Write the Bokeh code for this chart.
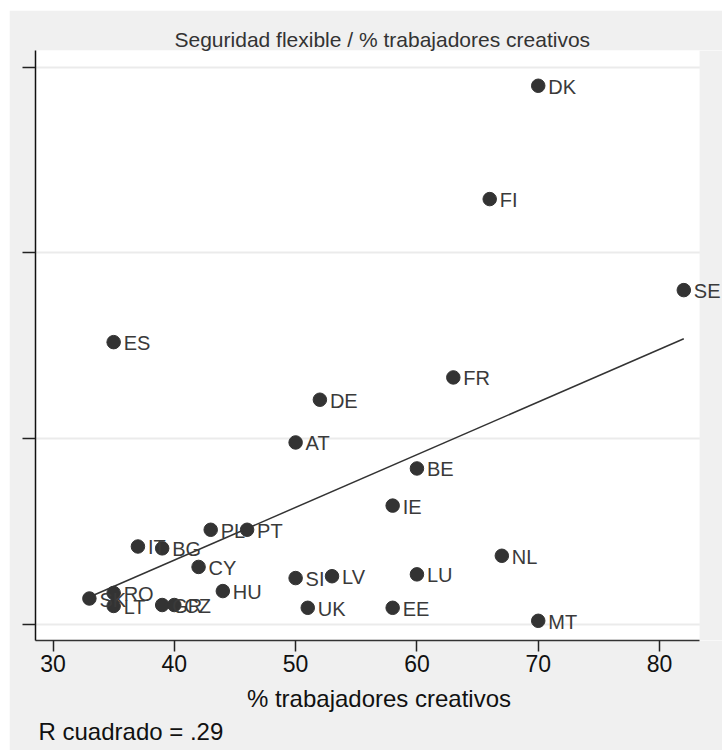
import numpy as np
from bokeh.plotting import figure
from bokeh.models import ColumnDataSource, FixedTicker, Title, Label, BoxAnnotation
from bokeh.embed import file_html
from bokeh.resources import INLINE

# ---- data ----
countries = ["DK", "FI", "SE", "ES", "FR", "DE", "AT", "BE", "IE", "PL", "PT",
             "IT", "BG", "NL", "CY", "LU", "LV", "SI", "HU", "RO", "SK", "LT",
             "GR", "CZ", "UK", "EE", "MT"]
creativos = [70, 66, 82, 35, 63, 52, 50, 60, 58, 43, 46,
             37, 39, 67, 42, 60, 53, 50, 44, 35, 33, 35,
             39, 40, 51, 58, 70]
seguridad = [2.90, 2.29, 1.80, 1.52, 1.33, 1.21, 0.98, 0.84, 0.64, 0.51, 0.51,
             0.42, 0.41, 0.37, 0.31, 0.27, 0.26, 0.25, 0.18, 0.17, 0.14, 0.10,
             0.105, 0.105, 0.09, 0.09, 0.02]
x_ticks = [30, 40, 50, 60, 70, 80]
y_ticks = [0, 1, 2, 3]
title_text = "Seguridad flexible / % trabajadores creativos"
x_label = "% trabajadores creativos"
r2_text = "R cuadrado = .29"

FONT = "Liberation Sans"
DARK = "#333333"
BG = "#f0f0f0"

X_LO, X_HI_PLOT, X_HI_CANVAS = 28.557, 83.30, 85.19

src = ColumnDataSource(dict(x=creativos, y=seguridad, name=countries))

p = figure(width=713, height=740,
           x_range=(X_LO, X_HI_CANVAS), y_range=(-0.086, 3.0898),
           output_backend="svg", toolbar_location=None,
           background_fill_color="white", border_fill_color=BG,
           min_border_left=26, min_border_right=0,
           min_border_top=40, min_border_bottom=110)
p.margin = (10, 0, 0, 9)
p.outline_line_color = None

# title
t = Title(text=title_text, align="left", offset=139,
          text_font=FONT, text_font_size="21px", text_font_style="normal",
          text_color="#333333", standoff=0)
p.add_layout(t, "above")

# R squared note
r2 = Title(text=r2_text, align="left", offset=3,
           text_font=FONT, text_font_size="24px", text_font_style="normal",
           text_color="#111111", standoff=2)
p.add_layout(r2, "below")

# grid
p.xgrid.visible = False
p.ygrid.ticker = FixedTicker(ticks=y_ticks)
p.ygrid.grid_line_color = "#ebebeb"
p.ygrid.grid_line_width = 2

# grey strip at the right of the plot region (labels may run over it)
p.add_layout(BoxAnnotation(left=X_HI_PLOT, fill_color=BG, fill_alpha=1.0,
                           line_color=None, level="underlay"))

# axes
p.xaxis.ticker = FixedTicker(ticks=x_ticks)
p.xaxis.bounds = (X_LO, X_HI_PLOT)
p.xaxis.axis_label = x_label
p.xaxis.axis_label_text_font = FONT
p.xaxis.axis_label_text_font_size = "24px"
p.xaxis.axis_label_text_font_style = "normal"
p.xaxis.axis_label_text_color = "#111111"
p.xaxis.axis_label_standoff = 10
p.xaxis.major_label_text_font = FONT
p.xaxis.major_label_text_font_size = "23px"
p.xaxis.major_label_text_color = "#111111"
p.xaxis.major_label_standoff = 3
p.xaxis.major_tick_out = 11
p.xaxis.major_tick_in = 0
p.xaxis.minor_tick_line_color = None
p.xaxis.axis_line_color = "#333333"
p.xaxis.axis_line_width = 1.5
p.xaxis.major_tick_line_color = "#222222"
p.xaxis.major_tick_line_width = 1.5

p.yaxis.ticker = FixedTicker(ticks=y_ticks)
p.yaxis.major_label_overrides = {tk: "" for tk in y_ticks}
p.yaxis.major_label_standoff = 0
p.yaxis.major_tick_out = 13
p.yaxis.major_tick_in = 0
p.yaxis.minor_tick_line_color = None
p.yaxis.axis_line_color = "#111111"
p.yaxis.axis_line_width = 1.5
p.yaxis.major_tick_line_color = "#222222"
p.yaxis.major_tick_line_width = 1.5

# regression line computed from the data
xa = np.array(creativos, dtype=float)
ya = np.array(seguridad, dtype=float)
slope, intercept = np.polyfit(xa, ya, 1)
xs = np.array([xa.min(), xa.max()])
p.line(xs, slope * xs + intercept, line_color=DARK, line_width=1.5)

# points
p.scatter("x", "y", source=src, size=13.5, fill_color=DARK, line_color=DARK)

# point labels
for cx, cy, name in zip(creativos, seguridad, countries):
    p.add_layout(Label(x=cx, y=cy, text=name, x_offset=10, y_offset=-1,
                       text_baseline="middle", text_align="left",
                       text_font=FONT, text_font_size="20px",
                       text_color="#3a3a3a"))

open("out.html", "w").write(file_html(p, INLINE))
